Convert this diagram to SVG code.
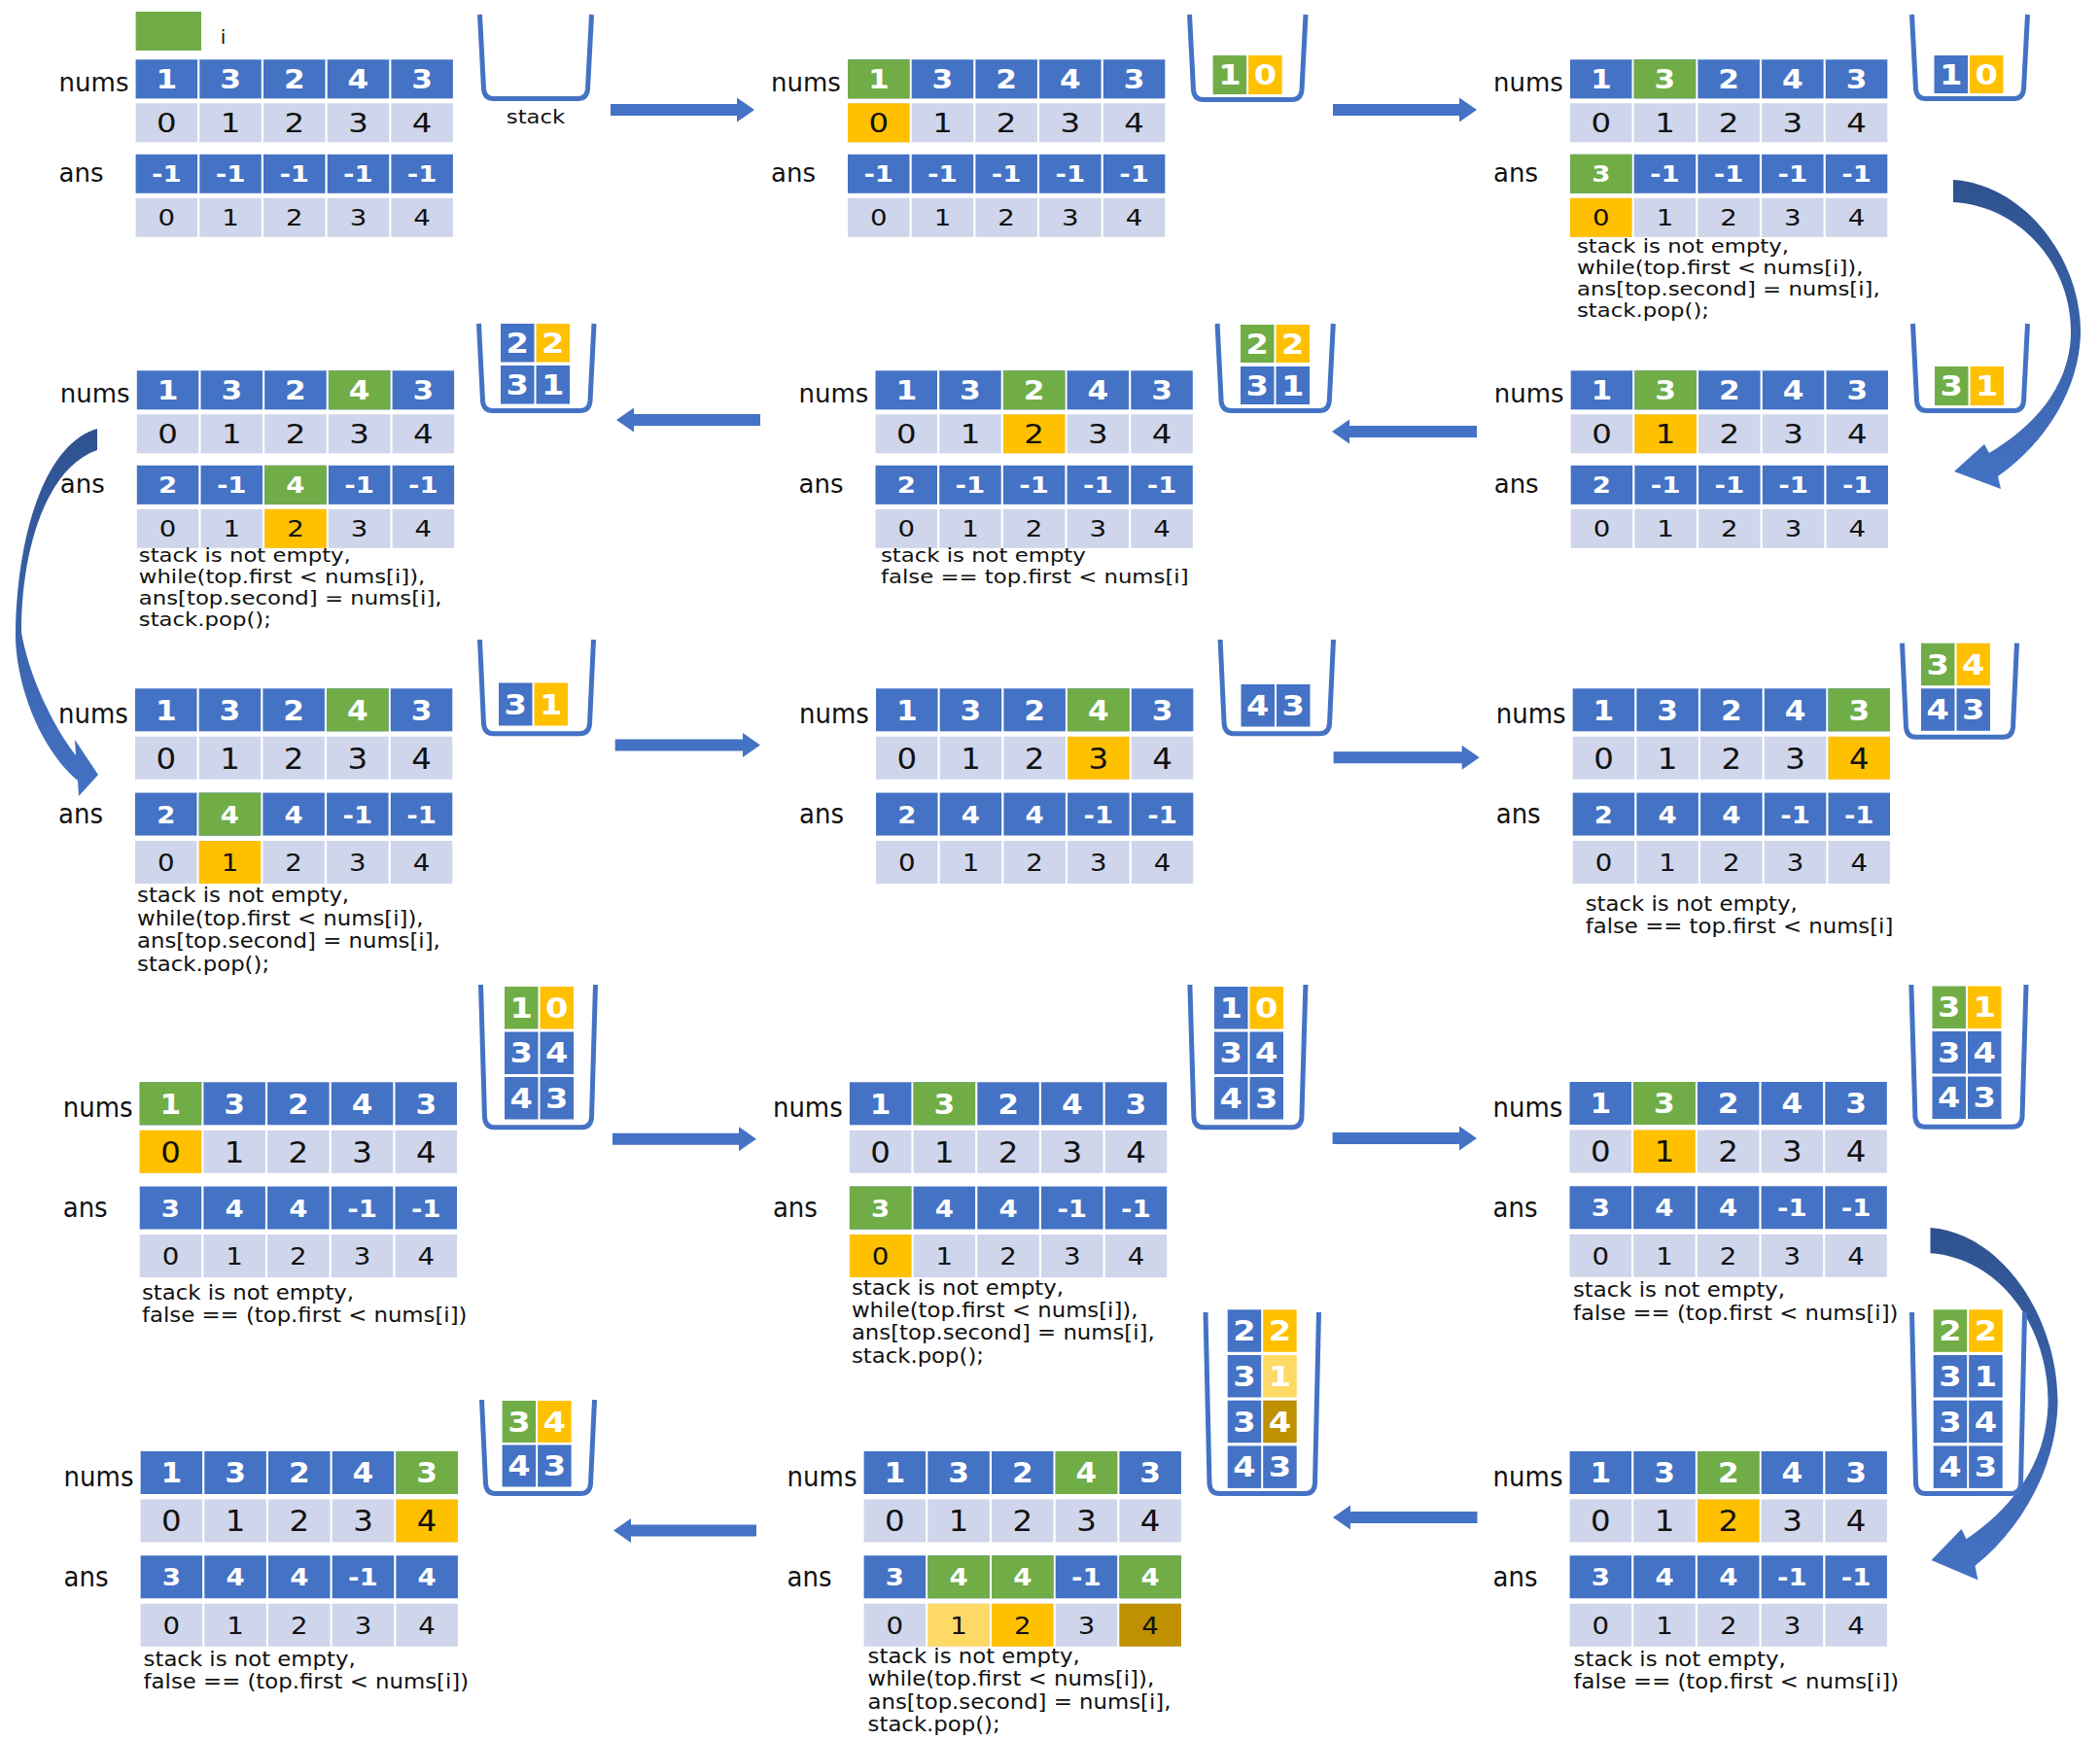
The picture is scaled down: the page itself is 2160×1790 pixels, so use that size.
<svg xmlns="http://www.w3.org/2000/svg" width="2160" height="1790" viewBox="0 0 2160 1790">
<style>
.b{fill:#4472C4}.gy{fill:#CFD5EA}.g{fill:#70AD47}.y{fill:#FFC000}.ly{fill:#FFD966}.dg{fill:#BF9000}
.sep{stroke:#fff;stroke-width:2.2;fill:none}
.stk{fill:none;stroke:#4472C4;stroke-width:5;stroke-linejoin:round}
.arr{fill:#4472C4}
.carr{fill:url(#cg)}
text{font-family:"DejaVu Sans","Liberation Sans",sans-serif}
.lbl{font-size:26px;fill:#111}
.nd{font-size:26px;font-weight:bold;fill:#fff;text-anchor:middle}
.id{font-size:27px;fill:#111;text-anchor:middle}
.ad{font-size:23px;font-weight:bold;fill:#fff;text-anchor:middle}
.ai{font-size:23px;fill:#111;text-anchor:middle}
.code{font-size:19px;fill:#111}
.sd{font-size:28px;font-weight:bold;fill:#fff;text-anchor:middle}
</style>
<defs>
<linearGradient id="cg" x1="0" y1="0" x2="0" y2="1"><stop offset="0" stop-color="#2F528F"/><stop offset="1" stop-color="#4472C4"/></linearGradient>
<g id="grid">
<rect class="b" x="0" y="0" width="326.3" height="40"/>
<rect class="gy" x="0" y="45" width="326.3" height="40"/>
<rect class="b" x="0" y="97.5" width="326.3" height="40"/>
<rect class="gy" x="0" y="142.5" width="326.3" height="40"/>
<path class="sep" d="M64.6 0V183M130.3 0V183M196 0V183M261.7 0V183"/>
</g>
</defs>
<rect width="2160" height="1790" fill="#fff"/>

<g id="connectors">
<path class="arr" d="M628 107H758V100.5L776 113L758 125.5V119H628Z"/>
<path class="arr" d="M1371 107H1501V100.5L1519 113L1501 125.5V119H1371Z"/>
<path class="arr" d="M1519 438H1388V431.5L1370 444L1388 456.5V450H1519Z"/>
<path class="arr" d="M782 426H652V419.5L634 432L652 444.5V438H782Z"/>
<path class="arr" d="M632.7 760.5H764V754L782 766.5L764 779V772.5H632.7Z"/>
<path class="arr" d="M1371.6 773.3H1503.7V766.8L1521.7 779.3L1503.7 791.8V785.3H1371.6Z"/>
<path class="arr" d="M630 1165.7H760V1159.2L778 1171.7L760 1184.2V1177.7H630Z"/>
<path class="arr" d="M1370.6 1165H1501V1158.5L1519 1171L1501 1183.5V1177H1370.6Z"/>
<path class="arr" d="M1519.5 1555H1389V1548.5L1371 1561L1389 1573.5V1567H1519.5Z"/>
<path class="arr" d="M778 1568.6H649V1562.1L631 1574.6L649 1587.1V1580.6H778Z"/>
<path class="carr" d="M2009 185C2085 190 2142 270 2140 345C2138 400 2105 455 2055 490L2058 503L2010 485L2041 457L2046 466C2090 440 2128 400 2130 345C2132 275 2080 212 2009 208Z"/>
<path class="carr" d="M100 441C50 455 18 540 16 650C15 700 40 770 80 803L81 819L101 797L77 761L78 777C60 755 30 700 22 650C22 560 50 480 100 463Z"/>
<path class="carr" transform="translate(1985.5,1263) scale(1,1.14) translate(-2009,-185)" d="M2009 185C2085 190 2142 270 2140 345C2138 400 2105 455 2055 490L2058 503L2010 485L2041 457L2046 466C2090 440 2128 400 2130 345C2132 275 2080 212 2009 208Z"/>
</g>

<g id="step1">
<rect class="g" x="139.6" y="12" width="67.4" height="40"/>
<text x="229.5" y="45" style="font-size:20px;fill:#111;text-anchor:middle">i</text>
<g transform="translate(139.6,61.3)">
<use href="#grid"/>
<text class="lbl" x="-79" y="32.5">nums</text><text class="lbl" x="-79" y="126">ans</text>
<g transform="scale(1.2,1)">
<text class="nd" x="26.46 81.21 135.96 190.71 245.46" y="29.5">13243</text>
<text class="id" x="26.46 81.21 135.96 190.71 245.46" y="74.8">01234</text>
<text class="ad" y="125.9"><tspan x="26.46">-1</tspan><tspan x="81.21">-1</tspan><tspan x="135.96">-1</tspan><tspan x="190.71">-1</tspan><tspan x="245.46">-1</tspan></text>
<text class="ai" x="26.46 81.21 135.96 190.71 245.46" y="170.9">01234</text>
</g>
</g>
<path class="stk" d="M493.5 15L497.5 91.5Q498.5 101.5 507.5 101.5H594.5Q603.5 101.5 604.5 91.5L608.5 15"/>
<g transform="scale(1.2,1)"><text x="459.2" y="127" style="font-size:19px;fill:#111;text-anchor:middle">stack</text></g>
</g>

<g id="step2">
<g transform="translate(872,61.3)">
<use href="#grid"/>
<rect class="g" x="0" y="0" width="63.5" height="40"/><rect class="y" x="0" y="45" width="63.5" height="40"/>
<text class="lbl" x="-79" y="32.5">nums</text><text class="lbl" x="-79" y="126">ans</text>
<g transform="scale(1.2,1)">
<text class="nd" x="26.46 81.21 135.96 190.71 245.46" y="29.5">13243</text>
<text class="id" x="26.46 81.21 135.96 190.71 245.46" y="74.8">01234</text>
<text class="ad" y="125.9"><tspan x="26.46">-1</tspan><tspan x="81.21">-1</tspan><tspan x="135.96">-1</tspan><tspan x="190.71">-1</tspan><tspan x="245.46">-1</tspan></text>
<text class="ai" x="26.46 81.21 135.96 190.71 245.46" y="170.9">01234</text>
</g>
</g>
<path class="stk" d="M1223.5 15L1227.5 92.5Q1228.5 102.5 1237.5 102.5H1329Q1338 102.5 1339 92.5L1343 15"/>
<g transform="translate(1247.6,57)"><rect class="g" width="34.5" height="40"/><rect class="y" x="36.5" width="34.5" height="40"/><g transform="scale(1.2,1)"><text class="sd" x="14.38 44.79" y="30.2">10</text></g></g>
</g>

<g id="step3">
<g transform="translate(1615,61.3)">
<use href="#grid"/>
<rect class="g" x="65.7" y="0" width="63.5" height="40"/><rect class="g" x="0" y="97.5" width="63.5" height="40"/><rect class="y" x="0" y="142.5" width="63.5" height="40"/>
<text class="lbl" x="-79" y="32.5">nums</text><text class="lbl" x="-79" y="126">ans</text>
<g transform="scale(1.2,1)">
<text class="nd" x="26.46 81.21 135.96 190.71 245.46" y="29.5">13243</text>
<text class="id" x="26.46 81.21 135.96 190.71 245.46" y="74.8">01234</text>
<text class="ad" y="125.9"><tspan x="26.46">3</tspan><tspan x="81.21">-1</tspan><tspan x="135.96">-1</tspan><tspan x="190.71">-1</tspan><tspan x="245.46">-1</tspan></text>
<text class="ai" x="26.46 81.21 135.96 190.71 245.46" y="170.9">01234</text>
<text class="code"><tspan x="5.83" y="198.7">stack is not empty,</tspan><tspan x="5.83" y="220.7">while(top.first &lt; nums[i]),</tspan><tspan x="5.83" y="242.7">ans[top.second] = nums[i],</tspan><tspan x="5.83" y="264.7">stack.pop();</tspan></text>
</g>
</g>
<path class="stk" d="M1966.5 15L1970.5 91.5Q1971.5 101.5 1980.5 101.5H2071.5Q2080.5 101.5 2081.5 91.5L2085.5 15"/>
<g transform="translate(1989.5,57)"><rect class="b" width="34.5" height="39"/><rect class="y" x="36.5" width="34.5" height="39"/><g transform="scale(1.2,1)"><text class="sd" x="14.38 44.79" y="29.7">10</text></g></g>
</g>

<g id="step4">
<g transform="translate(140.8,381.3)">
<use href="#grid"/>
<rect class="g" x="197.1" y="0" width="63.5" height="40"/><rect class="g" x="131.4" y="97.5" width="63.5" height="40"/><rect class="y" x="131.4" y="142.5" width="63.5" height="40"/>
<text class="lbl" x="-79" y="32.5">nums</text><text class="lbl" x="-79" y="126">ans</text>
<g transform="scale(1.2,1)">
<text class="nd" x="26.46 81.21 135.96 190.71 245.46" y="29.5">13243</text>
<text class="id" x="26.46 81.21 135.96 190.71 245.46" y="74.8">01234</text>
<text class="ad" y="125.9"><tspan x="26.46">2</tspan><tspan x="81.21">-1</tspan><tspan x="135.96">4</tspan><tspan x="190.71">-1</tspan><tspan x="245.46">-1</tspan></text>
<text class="ai" x="26.46 81.21 135.96 190.71 245.46" y="170.9">01234</text>
<text class="code"><tspan x="1.67" y="196.7">stack is not empty,</tspan><tspan x="1.67" y="218.7">while(top.first &lt; nums[i]),</tspan><tspan x="1.67" y="240.7">ans[top.second] = nums[i],</tspan><tspan x="1.67" y="262.7">stack.pop();</tspan></text>
</g>
</g>
<path class="stk" d="M492.5 333L496.5 412.5Q497.5 422.5 506.5 422.5H597Q606 422.5 607 412.5L611 333"/>
<g transform="translate(515,333)"><rect class="b" width="34.5" height="39.5"/><rect class="y" x="36.5" width="34.5" height="39.5"/><rect class="b" y="43" width="34.5" height="39.5"/><rect class="b" x="36.5" y="43" width="34.5" height="39.5"/><g transform="scale(1.2,1)"><text class="sd" x="14.38 44.79" y="29.9">22</text><text class="sd" x="14.38 44.79" y="72.9">31</text></g></g>
</g>

<g id="step5">
<g transform="translate(900.5,381.3)">
<use href="#grid"/>
<rect class="g" x="131.4" y="0" width="63.5" height="40"/><rect class="y" x="131.4" y="45" width="63.5" height="40"/>
<text class="lbl" x="-79" y="32.5">nums</text><text class="lbl" x="-79" y="126">ans</text>
<g transform="scale(1.2,1)">
<text class="nd" x="26.46 81.21 135.96 190.71 245.46" y="29.5">13243</text>
<text class="id" x="26.46 81.21 135.96 190.71 245.46" y="74.8">01234</text>
<text class="ad" y="125.9"><tspan x="26.46">2</tspan><tspan x="81.21">-1</tspan><tspan x="135.96">-1</tspan><tspan x="190.71">-1</tspan><tspan x="245.46">-1</tspan></text>
<text class="ai" x="26.46 81.21 135.96 190.71 245.46" y="170.9">01234</text>
<text class="code"><tspan x="4.58" y="196.7">stack is not empty</tspan><tspan x="4.58" y="218.7">false == top.first &lt; nums[i]</tspan></text>
</g>
</g>
<path class="stk" d="M1252.1 333L1256.1 412.5Q1257.1 422.5 1266.1 422.5H1357.3Q1366.3 422.5 1367.3 412.5L1371.3 333"/>
<g transform="translate(1276,334)"><rect class="g" width="34.5" height="39"/><rect class="y" x="36.5" width="34.5" height="39"/><rect class="b" y="43" width="34.5" height="39"/><rect class="b" x="36.5" y="43" width="34.5" height="39"/><g transform="scale(1.2,1)"><text class="sd" x="14.38 44.79" y="29.7">22</text><text class="sd" x="14.38 44.79" y="72.7">31</text></g></g>
</g>

<g id="step6">
<g transform="translate(1615.7,381.3)">
<use href="#grid"/>
<rect class="g" x="65.7" y="0" width="63.5" height="40"/><rect class="y" x="65.7" y="45" width="63.5" height="40"/>
<text class="lbl" x="-79" y="32.5">nums</text><text class="lbl" x="-79" y="126">ans</text>
<g transform="scale(1.2,1)">
<text class="nd" x="26.46 81.21 135.96 190.71 245.46" y="29.5">13243</text>
<text class="id" x="26.46 81.21 135.96 190.71 245.46" y="74.8">01234</text>
<text class="ad" y="125.9"><tspan x="26.46">2</tspan><tspan x="81.21">-1</tspan><tspan x="135.96">-1</tspan><tspan x="190.71">-1</tspan><tspan x="245.46">-1</tspan></text>
<text class="ai" x="26.46 81.21 135.96 190.71 245.46" y="170.9">01234</text>
</g>
</g>
<path class="stk" d="M1967.5 333L1971.5 412.5Q1972.5 422.5 1981.5 422.5H2071.5Q2080.5 422.5 2081.5 412.5L2085.5 333"/>
<g transform="translate(1990,377)"><rect class="g" width="34.5" height="40"/><rect class="y" x="36.5" width="34.5" height="40"/><g transform="scale(1.2,1)"><text class="sd" x="14.38 44.79" y="30.2">31</text></g></g>
</g>

<g id="step7">
<g transform="translate(139,708.3) scale(1,1.1)">
<use href="#grid"/>
<rect class="g" x="197.1" y="0" width="63.5" height="40"/><rect class="g" x="65.7" y="97.5" width="63.5" height="40"/><rect class="y" x="65.7" y="142.5" width="63.5" height="40"/>
<text class="lbl" x="-79" y="32.5">nums</text><text class="lbl" x="-79" y="126">ans</text>
<g transform="scale(1.2,1)">
<text class="nd" x="26.46 81.21 135.96 190.71 245.46" y="29.5">13243</text>
<text class="id" x="26.46 81.21 135.96 190.71 245.46" y="74.8">01234</text>
<text class="ad" y="125.9"><tspan x="26.46">2</tspan><tspan x="81.21">4</tspan><tspan x="135.96">4</tspan><tspan x="190.71">-1</tspan><tspan x="245.46">-1</tspan></text>
<text class="ai" x="26.46 81.21 135.96 190.71 245.46" y="170.9">01234</text>
<text class="code"><tspan x="1.67" y="200">stack is not empty,</tspan><tspan x="1.67" y="221.3">while(top.first &lt; nums[i]),</tspan><tspan x="1.67" y="242.6">ans[top.second] = nums[i],</tspan><tspan x="1.67" y="263.9">stack.pop();</tspan></text>
</g>
</g>
<path class="stk" d="M493.5 658L497.5 744.8Q498.5 754.8 507.5 754.8H596.5Q605.5 754.8 606.5 744.8L610.5 658"/>
<g transform="translate(513,702.5)"><rect class="b" width="34.5" height="44"/><rect class="y" x="36.5" width="34.5" height="44"/><g transform="scale(1.2,1)"><text class="sd" x="14.38 44.79" y="32.2">31</text></g></g>
</g>

<g id="step8">
<g transform="translate(901,708.3) scale(1,1.1)">
<use href="#grid"/>
<rect class="g" x="197.1" y="0" width="63.5" height="40"/><rect class="y" x="197.1" y="45" width="63.5" height="40"/>
<text class="lbl" x="-79" y="32.5">nums</text><text class="lbl" x="-79" y="126">ans</text>
<g transform="scale(1.2,1)">
<text class="nd" x="26.46 81.21 135.96 190.71 245.46" y="29.5">13243</text>
<text class="id" x="26.46 81.21 135.96 190.71 245.46" y="74.8">01234</text>
<text class="ad" y="125.9"><tspan x="26.46">2</tspan><tspan x="81.21">4</tspan><tspan x="135.96">4</tspan><tspan x="190.71">-1</tspan><tspan x="245.46">-1</tspan></text>
<text class="ai" x="26.46 81.21 135.96 190.71 245.46" y="170.9">01234</text>
</g>
</g>
<path class="stk" d="M1255.1 658L1259.1 744.8Q1260.1 754.8 1269.1 754.8H1357.5Q1366.5 754.8 1367.5 744.8L1371.5 658"/>
<g transform="translate(1276.5,704)"><rect class="b" width="34.5" height="43.5"/><rect class="b" x="36.5" width="34.5" height="43.5"/><g transform="scale(1.2,1)"><text class="sd" x="14.38 44.79" y="31.9">43</text></g></g>
</g>

<g id="step9">
<g transform="translate(1617.7,708.3) scale(1,1.1)">
<use href="#grid"/>
<rect class="g" x="262.8" y="0" width="63.5" height="40"/><rect class="y" x="262.8" y="45" width="63.5" height="40"/>
<text class="lbl" x="-79" y="32.5">nums</text><text class="lbl" x="-79" y="126">ans</text>
<g transform="scale(1.2,1)">
<text class="nd" x="26.46 81.21 135.96 190.71 245.46" y="29.5">13243</text>
<text class="id" x="26.46 81.21 135.96 190.71 245.46" y="74.8">01234</text>
<text class="ad" y="125.9"><tspan x="26.46">2</tspan><tspan x="81.21">4</tspan><tspan x="135.96">4</tspan><tspan x="190.71">-1</tspan><tspan x="245.46">-1</tspan></text>
<text class="ai" x="26.46 81.21 135.96 190.71 245.46" y="170.9">01234</text>
<text class="code"><tspan x="10.83" y="207.6">stack is not empty,</tspan><tspan x="10.83" y="228.9">false == top.first &lt; nums[i]</tspan></text>
</g>
</g>
<path class="stk" d="M1956.5 661.7L1960.5 748.2Q1961.5 758.2 1970.5 758.2H2060.5Q2069.5 758.2 2070.5 748.2L2074.5 661.7"/>
<g transform="translate(1976,661.7)"><rect class="g" width="34.5" height="43.5"/><rect class="y" x="36.5" width="34.5" height="43.5"/><rect class="b" y="46.6" width="34.5" height="43.5"/><rect class="b" x="36.5" y="46.6" width="34.5" height="43.5"/><g transform="scale(1.2,1)"><text class="sd" x="14.38 44.79" y="31.9">34</text><text class="sd" x="14.38 44.79" y="78.5">43</text></g></g>
</g>

<g id="step10">
<g transform="translate(143.7,1113.3) scale(1,1.1)">
<use href="#grid"/>
<rect class="g" x="0" y="0" width="63.5" height="40"/><rect class="y" x="0" y="45" width="63.5" height="40"/>
<text class="lbl" x="-79" y="32.5">nums</text><text class="lbl" x="-79" y="126">ans</text>
<g transform="scale(1.2,1)">
<text class="nd" x="26.46 81.21 135.96 190.71 245.46" y="29.5">13243</text>
<text class="id" x="26.46 81.21 135.96 190.71 245.46" y="74.8">01234</text>
<text class="ad" y="125.9"><tspan x="26.46">3</tspan><tspan x="81.21">4</tspan><tspan x="135.96">4</tspan><tspan x="190.71">-1</tspan><tspan x="245.46">-1</tspan></text>
<text class="ai" x="26.46 81.21 135.96 190.71 245.46" y="170.9">01234</text>
<text class="code"><tspan x="1.92" y="203.1">stack is not empty,</tspan><tspan x="1.92" y="224.4">false == (top.first &lt; nums[i])</tspan></text>
</g>
</g>
<path class="stk" d="M494.5 1013L498.5 1149.8Q499.5 1159.8 508.5 1159.8H598.5Q607.5 1159.8 608.5 1149.8L612.5 1013"/>
<g transform="translate(519,1015)"><rect class="g" width="34.5" height="43.5"/><rect class="y" x="36.5" width="34.5" height="43.5"/><rect class="b" y="46.5" width="34.5" height="43.5"/><rect class="b" x="36.5" y="46.5" width="34.5" height="43.5"/><rect class="b" y="93" width="34.5" height="43.5"/><rect class="b" x="36.5" y="93" width="34.5" height="43.5"/><g transform="scale(1.2,1)"><text class="sd" x="14.38 44.79" y="31.9">10</text><text class="sd" x="14.38 44.79" y="78.4">34</text><text class="sd" x="14.38 44.79" y="124.9">43</text></g></g>
</g>

<g id="step11">
<g transform="translate(873.9,1113.3) scale(1,1.1)">
<use href="#grid"/>
<rect class="g" x="65.7" y="0" width="63.5" height="40"/><rect class="g" x="0" y="97.5" width="63.5" height="40"/><rect class="y" x="0" y="142.5" width="63.5" height="40"/>
<text class="lbl" x="-79" y="32.5">nums</text><text class="lbl" x="-79" y="126">ans</text>
<g transform="scale(1.2,1)">
<text class="nd" x="26.46 81.21 135.96 190.71 245.46" y="29.5">13243</text>
<text class="id" x="26.46 81.21 135.96 190.71 245.46" y="74.8">01234</text>
<text class="ad" y="125.9"><tspan x="26.46">3</tspan><tspan x="81.21">4</tspan><tspan x="135.96">4</tspan><tspan x="190.71">-1</tspan><tspan x="245.46">-1</tspan></text>
<text class="ai" x="26.46 81.21 135.96 190.71 245.46" y="170.9">01234</text>
<text class="code"><tspan x="1.67" y="198.5">stack is not empty,</tspan><tspan x="1.67" y="219.8">while(top.first &lt; nums[i]),</tspan><tspan x="1.67" y="241.1">ans[top.second] = nums[i],</tspan><tspan x="1.67" y="262.4">stack.pop();</tspan></text>
</g>
</g>
<path class="stk" d="M1223.9 1013L1227.9 1149.8Q1228.9 1159.8 1237.9 1159.8H1328.9Q1337.9 1159.8 1338.9 1149.8L1342.9 1013"/>
<g transform="translate(1249,1015)"><rect class="b" width="34.5" height="43.5"/><rect class="y" x="36.5" width="34.5" height="43.5"/><rect class="b" y="46.5" width="34.5" height="43.5"/><rect class="b" x="36.5" y="46.5" width="34.5" height="43.5"/><rect class="b" y="93" width="34.5" height="43.5"/><rect class="b" x="36.5" y="93" width="34.5" height="43.5"/><g transform="scale(1.2,1)"><text class="sd" x="14.38 44.79" y="31.9">10</text><text class="sd" x="14.38 44.79" y="78.4">34</text><text class="sd" x="14.38 44.79" y="124.9">43</text></g></g>
</g>

<g id="step12">
<g transform="translate(1614.5,1113) scale(1,1.1)">
<use href="#grid"/>
<rect class="g" x="65.7" y="0" width="63.5" height="40"/><rect class="y" x="65.7" y="45" width="63.5" height="40"/>
<text class="lbl" x="-79" y="32.5">nums</text><text class="lbl" x="-79" y="126">ans</text>
<g transform="scale(1.2,1)">
<text class="nd" x="26.46 81.21 135.96 190.71 245.46" y="29.5">13243</text>
<text class="id" x="26.46 81.21 135.96 190.71 245.46" y="74.8">01234</text>
<text class="ad" y="125.9"><tspan x="26.46">3</tspan><tspan x="81.21">4</tspan><tspan x="135.96">4</tspan><tspan x="190.71">-1</tspan><tspan x="245.46">-1</tspan></text>
<text class="ai" x="26.46 81.21 135.96 190.71 245.46" y="170.9">01234</text>
<text class="code"><tspan x="2.92" y="201.2">stack is not empty,</tspan><tspan x="2.92" y="222.5">false == (top.first &lt; nums[i])</tspan></text>
</g>
</g>
<path class="stk" d="M1965.9 1013L1969.9 1149.2Q1970.9 1159.2 1979.9 1159.2H2070Q2079 1159.2 2080 1149.2L2084 1013"/>
<g transform="translate(1987.5,1014.5)"><rect class="g" width="34.5" height="43.5"/><rect class="y" x="36.5" width="34.5" height="43.5"/><rect class="b" y="46.5" width="34.5" height="43.5"/><rect class="b" x="36.5" y="46.5" width="34.5" height="43.5"/><rect class="b" y="93" width="34.5" height="43.5"/><rect class="b" x="36.5" y="93" width="34.5" height="43.5"/><g transform="scale(1.2,1)"><text class="sd" x="14.38 44.79" y="31.9">31</text><text class="sd" x="14.38 44.79" y="78.4">34</text><text class="sd" x="14.38 44.79" y="124.9">43</text></g></g>
</g>

<g id="step13">
<g transform="translate(144.6,1493) scale(1,1.1)">
<use href="#grid"/>
<rect class="g" x="262.8" y="0" width="63.5" height="40"/><rect class="y" x="262.8" y="45" width="63.5" height="40"/>
<text class="lbl" x="-79" y="32.5">nums</text><text class="lbl" x="-79" y="126">ans</text>
<g transform="scale(1.2,1)">
<text class="nd" x="26.46 81.21 135.96 190.71 245.46" y="29.5">13243</text>
<text class="id" x="26.46 81.21 135.96 190.71 245.46" y="74.8">01234</text>
<text class="ad" y="125.9"><tspan x="26.46">3</tspan><tspan x="81.21">4</tspan><tspan x="135.96">4</tspan><tspan x="190.71">-1</tspan><tspan x="245.46">4</tspan></text>
<text class="ai" x="26.46 81.21 135.96 190.71 245.46" y="170.9">01234</text>
<text class="code"><tspan x="2.5" y="200.9">stack is not empty,</tspan><tspan x="2.5" y="222.2">false == (top.first &lt; nums[i])</tspan></text>
</g>
</g>
<path class="stk" d="M495.5 1440L499.5 1526.5Q500.5 1536.5 509.5 1536.5H597.5Q606.5 1536.5 607.5 1526.5L611.5 1440"/>
<g transform="translate(516.6,1441)"><rect class="g" width="34.5" height="43"/><rect class="y" x="36.5" width="34.5" height="43"/><rect class="b" y="45.5" width="34.5" height="43"/><rect class="b" x="36.5" y="45.5" width="34.5" height="43"/><g transform="scale(1.2,1)"><text class="sd" x="14.38 44.79" y="31.7">34</text><text class="sd" x="14.38 44.79" y="77.2">43</text></g></g>
</g>

<g id="step14">
<g transform="translate(888.6,1493) scale(1,1.1)">
<use href="#grid"/>
<rect class="g" x="197.1" y="0" width="63.5" height="40"/>
<rect class="g" x="65.7" y="97.5" width="63.5" height="40"/><rect class="g" x="131.4" y="97.5" width="63.5" height="40"/><rect class="g" x="262.8" y="97.5" width="63.5" height="40"/>
<rect class="ly" x="65.7" y="142.5" width="63.5" height="40"/><rect class="y" x="131.4" y="142.5" width="63.5" height="40"/><rect class="dg" x="262.8" y="142.5" width="63.5" height="40"/>
<text class="lbl" x="-79" y="32.5">nums</text><text class="lbl" x="-79" y="126">ans</text>
<g transform="scale(1.2,1)">
<text class="nd" x="26.46 81.21 135.96 190.71 245.46" y="29.5">13243</text>
<text class="id" x="26.46 81.21 135.96 190.71 245.46" y="74.8">01234</text>
<text class="ad" y="125.9"><tspan x="26.46">3</tspan><tspan x="81.21">4</tspan><tspan x="135.96">4</tspan><tspan x="190.71">-1</tspan><tspan x="245.46">4</tspan></text>
<text class="ai" x="26.46 81.21 135.96 190.71 245.46" y="170.9">01234</text>
<text class="code"><tspan x="3.33" y="198.2">stack is not empty,</tspan><tspan x="3.33" y="219.4">while(top.first &lt; nums[i]),</tspan><tspan x="3.33" y="240.6">ans[top.second] = nums[i],</tspan><tspan x="3.33" y="261.8">stack.pop();</tspan></text>
</g>
</g>
<path class="stk" d="M1240 1350L1244 1526.5Q1245 1536.5 1254 1536.5H1342.5Q1351.5 1536.5 1352.5 1526.5L1356.5 1350"/>
<g transform="translate(1262.7,1347.3)"><rect class="b" width="34.5" height="43.5"/><rect class="y" x="36.5" width="34.5" height="43.5"/><rect class="b" y="46.7" width="34.5" height="43.5"/><rect class="ly" x="36.5" y="46.7" width="34.5" height="43.5"/><rect class="b" y="93.4" width="34.5" height="43.5"/><rect class="dg" x="36.5" y="93.4" width="34.5" height="43.5"/><rect class="b" y="140.1" width="34.5" height="43.5"/><rect class="b" x="36.5" y="140.1" width="34.5" height="43.5"/><g transform="scale(1.2,1)"><text class="sd" x="14.38 44.79" y="31.9">22</text><text class="sd" x="14.38 44.79" y="78.6">31</text><text class="sd" x="14.38 44.79" y="125.3">34</text><text class="sd" x="14.38 44.79" y="172">43</text></g></g>
</g>

<g id="step15">
<g transform="translate(1614.6,1493) scale(1,1.1)">
<use href="#grid"/>
<rect class="g" x="131.4" y="0" width="63.5" height="40"/><rect class="y" x="131.4" y="45" width="63.5" height="40"/>
<text class="lbl" x="-79" y="32.5">nums</text><text class="lbl" x="-79" y="126">ans</text>
<g transform="scale(1.2,1)">
<text class="nd" x="26.46 81.21 135.96 190.71 245.46" y="29.5">13243</text>
<text class="id" x="26.46 81.21 135.96 190.71 245.46" y="74.8">01234</text>
<text class="ad" y="125.9"><tspan x="26.46">3</tspan><tspan x="81.21">4</tspan><tspan x="135.96">4</tspan><tspan x="190.71">-1</tspan><tspan x="245.46">-1</tspan></text>
<text class="ai" x="26.46 81.21 135.96 190.71 245.46" y="170.9">01234</text>
<text class="code"><tspan x="3.33" y="200.9">stack is not empty,</tspan><tspan x="3.33" y="222.2">false == (top.first &lt; nums[i])</tspan></text>
</g>
</g>
<path class="stk" d="M1966.5 1350L1970.5 1526.5Q1971.5 1536.5 1980.5 1536.5H2068.5Q2077.5 1536.5 2078.5 1526.5L2082.5 1350"/>
<g transform="translate(1988.7,1347.3)"><rect class="g" width="34.5" height="43.5"/><rect class="y" x="36.5" width="34.5" height="43.5"/><rect class="b" y="46.7" width="34.5" height="43.5"/><rect class="b" x="36.5" y="46.7" width="34.5" height="43.5"/><rect class="b" y="93.4" width="34.5" height="43.5"/><rect class="b" x="36.5" y="93.4" width="34.5" height="43.5"/><rect class="b" y="140.1" width="34.5" height="43.5"/><rect class="b" x="36.5" y="140.1" width="34.5" height="43.5"/><g transform="scale(1.2,1)"><text class="sd" x="14.38 44.79" y="31.9">22</text><text class="sd" x="14.38 44.79" y="78.6">31</text><text class="sd" x="14.38 44.79" y="125.3">34</text><text class="sd" x="14.38 44.79" y="172">43</text></g></g>
</g>
</svg>
